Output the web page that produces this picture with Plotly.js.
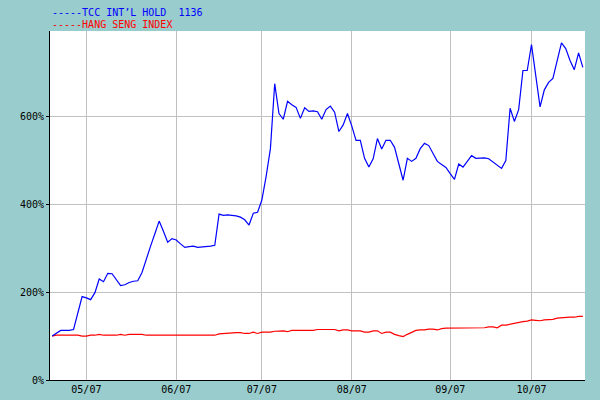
<!DOCTYPE html>
<html>
<head>
<meta charset="utf-8">
<script src="https://cdn.plot.ly/plotly-3.0.1.min.js"></script>
<style>html,body{margin:0;padding:0;background:#99cccc;}#chart{width:600px;height:400px;}</style>
</head>
<body>
<div id="chart"></div>
<script>
// Trading-day series (19 Apr 2007 – 18 Oct 2007), values in % of start
var tccValues = [100,107,113,113,113,115,152,190,187,183,199,230,224,243,242,229,215,217,222,225,
226,245,278,305,333,362,339,314,322,319,310,302,304,305,302,303,303,305,307,378,
375,376,375,374,371,365,353,380,382,410,464,527,675,607,594,635,627,621,596,620,
612,613,611,594,616,624,610,566,581,607,579,546,546,505,485,504,550,526,546,546,
530,494,455,505,498,505,527,539,534,516,498,491,484,470,457,492,485,498,511,505,
505,506,504,497,489,482,500,619,589,616,705,705,764,695,622,661,678,687,727,768,
755,728,707,745,712];
var hsiValues = [100,102,102,102,102,102,102,100,100,102,102,104,102,102,102,102,104,102,104,104,
104,104,102,102,102,102,101,102,102,102,102,102,102,102,102,102,102,102,102,105,
106,107,108,108,108,106,106,109,106,109,109,109,111,112,112,110,113,113,113,113,
113,113,115,115,115,115,115,112,114,114,112,112,112,109,109,112,112,106,109,109,
104,101,99,104,109,113,114,114,116,116,114,117,118,118,118,118,118,118,118,118,
119,119,121,121,119,125,125,127,130,131,133,134,137,136,135,137,137,138,141,142,
142,143,143,145,145];
var monthTickIndex = [8,29,49,70,93,112];
var monthTickLabels = ["05/07","06/07","07/07","08/07","09/07","10/07"];
var yTickValues = [0,200,400,600];
var yTickLabels = ["0%","200%","400%","600%"];
var seriesNames = ["-----TCC INT\u2019L HOLD  1136","-----HANG SENG INDEX"];
var seriesColors = ["#0000ff","#ff0000"];

var idx = tccValues.map(function(_, i){ return i; });

var traces = [
  {x: idx, y: hsiValues, type: "scatter", mode: "lines", line: {color: seriesColors[1], width: 1.2}, hoverinfo: "skip"},
  {x: idx, y: tccValues, type: "scatter", mode: "lines", line: {color: seriesColors[0], width: 1.2}, hoverinfo: "skip"}
];

var mono = "DejaVu Sans Mono, monospace";
var layout = {
  width: 600, height: 400,
  paper_bgcolor: "#99cccc",
  plot_bgcolor: "#ffffff",
  showlegend: false,
  margin: {l: 50, r: 15, t: 31, b: 20, pad: 0},
  xaxis: {
    range: [-0.5, idx.length - 0.5],
    tickmode: "array", tickvals: monthTickIndex, ticktext: monthTickLabels,
    showgrid: true, gridcolor: "#c0c0c0", gridwidth: 1,
    ticks: "", showline: true, linecolor: "#000000", linewidth: 1,
    zeroline: false, tickfont: {family: mono, size: 10, color: "#000000"},
    fixedrange: true
  },
  yaxis: {
    range: [0, 795],
    tickmode: "array", tickvals: yTickValues, ticktext: yTickLabels,
    showgrid: true, gridcolor: "#c0c0c0", gridwidth: 1,
    ticks: "outside", ticklen: 3, tickcolor: "#000000",
    showline: true, linecolor: "#000000", linewidth: 1,
    zeroline: false, tickfont: {family: mono, size: 10, color: "#000000"},
    fixedrange: true
  },
  annotations: [
    {text: seriesNames[0], xref: "paper", yref: "paper", x: 0, y: 1, xanchor: "left", yanchor: "bottom",
     yshift: 11, showarrow: false, font: {family: mono, size: 10, color: seriesColors[0]}},
    {text: seriesNames[1], xref: "paper", yref: "paper", x: 0, y: 1, xanchor: "left", yanchor: "bottom",
     yshift: -1, showarrow: false, font: {family: mono, size: 10, color: seriesColors[1]}}
  ]
};

Plotly.newPlot("chart", traces, layout, {displayModeBar: false, staticPlot: true});
</script>
</body>
</html>
